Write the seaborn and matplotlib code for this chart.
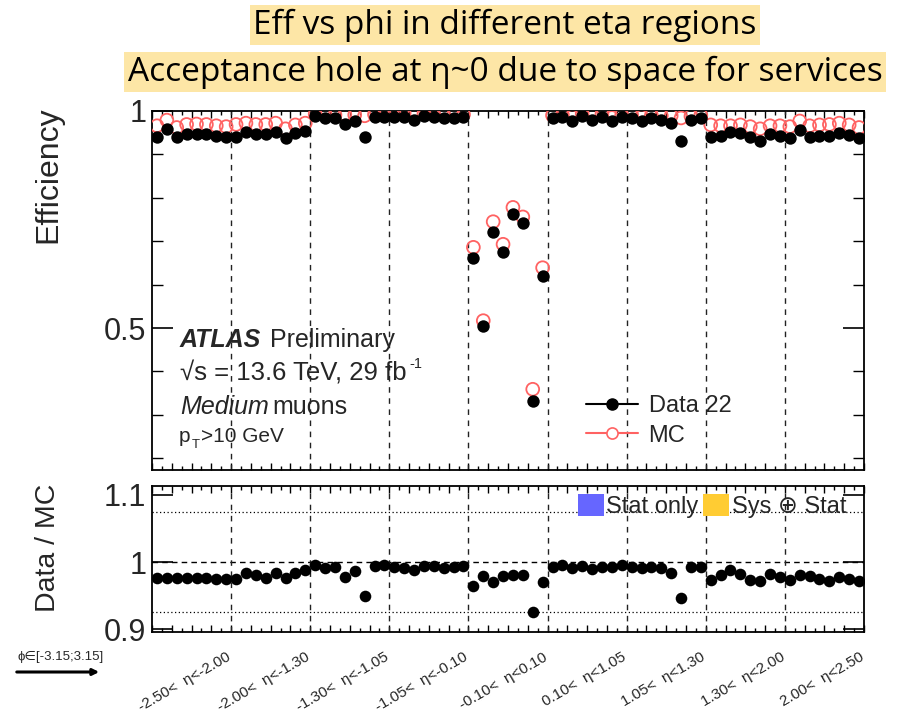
import numpy as np
import pandas as pd
import matplotlib
matplotlib.use("Agg")
import matplotlib.pyplot as plt
from matplotlib.lines import Line2D
from matplotlib.patches import Patch, FancyArrowPatch
import seaborn as sns

# ---- eta regions, 8 phi bins in each ----
eta_labels = ["-2.50<  \u03b7<-2.00", "-2.00<  \u03b7<-1.30", "-1.30<  \u03b7<-1.05",
              "-1.05<  \u03b7<-0.10", "-0.10<  \u03b7<0.10", "0.10<  \u03b7<1.05",
              "1.05<  \u03b7<1.30", "1.30<  \u03b7<2.00", "2.00<  \u03b7<2.50"]
n_phi = 8

# ---- efficiency in data (2022) per (eta, phi) bin ----
eff_data = [
    0.941, 0.959, 0.939, 0.946, 0.947, 0.946, 0.943, 0.939,
    0.941, 0.952, 0.947, 0.947, 0.951, 0.937, 0.949, 0.954,
    0.988, 0.984, 0.984, 0.970, 0.978, 0.940, 0.986, 0.987,
    0.986, 0.986, 0.979, 0.988, 0.986, 0.983, 0.984, 0.986,
    0.661, 0.505, 0.722, 0.676, 0.762, 0.741, 0.332, 0.620,
    0.983, 0.986, 0.978, 0.988, 0.980, 0.986, 0.978, 0.986,
    0.983, 0.978, 0.983, 0.980, 0.973, 0.931, 0.980, 0.983,
    0.941, 0.943, 0.952, 0.949, 0.941, 0.931, 0.946, 0.943,
    0.938, 0.956, 0.941, 0.943, 0.943, 0.949, 0.945, 0.937,
]

# ---- efficiency in simulation ----
eff_mc = [
    0.966, 0.979, 0.962, 0.969, 0.970, 0.969, 0.966, 0.964,
    0.969, 0.972, 0.969, 0.969, 0.972, 0.959, 0.968, 0.972,
    0.993, 0.993, 0.991, 0.992, 0.991, 0.989, 0.992, 0.992,
    0.993, 0.995, 0.991, 0.994, 0.992, 0.992, 0.991, 0.992,
    0.686, 0.517, 0.745, 0.693, 0.778, 0.756, 0.359, 0.639,
    0.990, 0.991, 0.987, 0.994, 0.990, 0.993, 0.985, 0.991,
    0.990, 0.987, 0.990, 0.989, 0.989, 0.984, 0.988, 0.990,
    0.968, 0.966, 0.966, 0.968, 0.964, 0.959, 0.966, 0.966,
    0.964, 0.977, 0.966, 0.968, 0.969, 0.972, 0.968, 0.962,
]

# ---- scale factor data / MC ----
ratio = [
    0.977, 0.977, 0.977, 0.977, 0.977, 0.977, 0.975, 0.975,
    0.975, 0.984, 0.981, 0.977, 0.983, 0.977, 0.983, 0.988,
    0.996, 0.991, 0.993, 0.978, 0.987, 0.950, 0.994, 0.995,
    0.993, 0.991, 0.988, 0.994, 0.994, 0.991, 0.993, 0.994,
    0.964, 0.979, 0.971, 0.979, 0.980, 0.980, 0.925, 0.971,
    0.993, 0.995, 0.991, 0.994, 0.990, 0.993, 0.993, 0.995,
    0.993, 0.991, 0.993, 0.991, 0.984, 0.946, 0.992, 0.993,
    0.973, 0.980, 0.988, 0.982, 0.973, 0.972, 0.982, 0.978,
    0.973, 0.980, 0.979, 0.975, 0.972, 0.978, 0.975, 0.972,
]

n_bins = len(eta_labels) * n_phi
df = pd.DataFrame({
    "bin": np.arange(n_bins) + 0.5,
    "data": eff_data,
    "mc": eff_mc,
    "ratio": ratio,
})

sns.set_theme(style="ticks")
plt.rcParams["font.family"] = ["Liberation Sans", "DejaVu Sans"]

W, H = 906, 715
fig = plt.figure(figsize=(W / 100, H / 100), dpi=100)


def fx(px):
    return px / W


def fy(py):
    return 1 - py / H


ax1 = fig.add_axes([fx(152), fy(470), fx(864) - fx(152), fy(111) - fy(470)])
ax2 = fig.add_axes([fx(152), fy(632), fx(864) - fx(152), fy(486) - fy(632)])

MC_RED = "#ff6262"

# ---- efficiency panel ----
sns.scatterplot(data=df, x="bin", y="mc", ax=ax1, marker="o", s=85,
                facecolor="none", edgecolor=MC_RED, linewidth=1.3,
                zorder=3, legend=False)
sns.scatterplot(data=df, x="bin", y="data", ax=ax1, marker="o", s=80,
                color="black", edgecolor="black", linewidth=0,
                zorder=4, legend=False)
ax1.set_xlim(0, n_bins)
ax1.set_ylim(0.173, 1.0)

# ---- ratio panel ----
sns.scatterplot(data=df, x="bin", y="ratio", ax=ax2, marker="o", s=70,
                color="black", edgecolor="black", linewidth=0,
                zorder=4, legend=False)
ax2.set_xlim(0, n_bins)
ax2.set_ylim(0.896, 1.113)
ax2.axhline(1.0, color="black", lw=1.0, ls=(0, (4, 3)), zorder=1)
for yv in (1.075, 0.925):
    ax2.axhline(yv, color="black", lw=0.9, ls=(0, (1, 2)), zorder=1)

# eta region boundaries
for ax in (ax1, ax2):
    for k in range(1, len(eta_labels)):
        ax.axvline(k * n_phi, color="#222222", lw=1.0, ls=(0, (4, 4)), zorder=1)
    ax.set_xlabel("")
    ax.set_ylabel("")
    for sp in ax.spines.values():
        sp.set_visible(True)
        sp.set_color("black")
        sp.set_linewidth(1.3)
    ax.set_xticks(np.arange(0, n_bins + 1, 2))
    ax.set_xticks(np.arange(0, n_bins + 1, 1), minor=True)
    ax.tick_params(axis="x", which="both", direction="in", top=True, bottom=True,
                   labelbottom=False, color="black")
    ax.tick_params(axis="x", which="major", length=5, width=1)
    ax.tick_params(axis="x", which="minor", length=3, width=1)
    ax.tick_params(axis="y", which="both", direction="in", left=True, right=True,
                   labelsize=22, color="black", pad=4)
    ax.tick_params(axis="y", which="major", length=15, width=1.2)
    ax.tick_params(axis="y", which="minor", length=8, width=1)

ax1.set_yticks([0.5, 1.0])
ax1.set_yticklabels(["0.5", "1"])
ax1.set_yticks([0.2, 0.3, 0.4, 0.6, 0.7, 0.8, 0.9], minor=True)
ax2.set_yticks([0.9, 1.0, 1.1])
ax2.set_yticklabels(["0.9", "1", "1.1"])
ax2.set_yticks([], minor=True)

# axis titles
fig.text(fx(48), fy(106), "Efficiency", rotation=90, ha="center", va="top", fontsize=23)
fig.text(fx(48), fy(484), "Data / MC", rotation=90, ha="center", va="top", fontsize=20.5)

# legends
h_data = Line2D([], [], color="black", lw=1.5, marker="o", ms=8, mfc="black", mec="black")
h_mc = Line2D([], [], color=MC_RED, lw=1.5, marker="o", ms=8, mfc="white", mec=MC_RED, mew=1.2)
fig.legend(handles=[h_data, h_mc], labels=["Data 22", "MC"], loc="center left",
           bbox_to_anchor=(fx(586), fy(421)), frameon=False, fontsize=17,
           handlelength=2.2, handletextpad=0.45, labelspacing=0.3,
           borderpad=0, borderaxespad=0)

h_stat = Patch(facecolor="#6666ff", edgecolor="none")
h_sys = Patch(facecolor="#ffcc33", edgecolor="none")
fig.legend(handles=[h_stat, h_sys], labels=["Stat only", "Sys \u2295 Stat"],
           loc="center left", bbox_to_anchor=(fx(578), fy(506)), ncol=2,
           frameon=False, fontsize=17, handlelength=1.1, handleheight=1.1,
           handletextpad=0.1, columnspacing=0.2, borderpad=0, borderaxespad=0)

# ATLAS label
fig.text(fx(180), fy(340), "ATLAS", fontsize=18, fontweight="bold", fontstyle="italic",
         va="center", ha="left")
fig.text(fx(270), fy(340), "Preliminary", fontsize=18, va="center", ha="left")
fig.text(fx(180), fy(373), "\u221as = 13.6 TeV, 29 fb", fontsize=18.5, va="center", ha="left")
fig.text(fx(409), fy(364), "-1", fontsize=10.5, va="center", ha="left")
fig.text(fx(180), fy(407), "Medium", fontsize=18, fontstyle="italic", va="center", ha="left")
fig.text(fx(272), fy(407), "muons", fontsize=18, va="center", ha="left")
fig.text(fx(179), fy(436), "p", fontsize=15, va="center", ha="left")
fig.text(fx(192), fy(445), "T", fontsize=9.5, va="center", ha="left")
fig.text(fx(201), fy(436), ">10 GeV", fontsize=15, va="center", ha="left")

# eta region labels under the ratio panel
for k, lab in enumerate(eta_labels):
    xr = fx(152) + (fx(864) - fx(152)) * ((k + 1) * n_phi - 0.5) / n_bins
    fig.text(xr, fy(650), lab, rotation=30, rotation_mode="anchor",
             ha="right", va="top", fontsize=11)

# phi direction marker
fig.text(fx(17), fy(657), "\u03d5\u2208[-3.15;3.15]", fontsize=9.5, ha="left", va="center")
fig.add_artist(FancyArrowPatch(
    (fx(14), fy(672)), (fx(102), fy(672)), transform=fig.transFigure,
    arrowstyle="-|>", mutation_scale=9, lw=2.2, color="black"))

# slide headline
title_kw = dict(ha="center", va="center", fontsize=24, family=["Open Sans", "DejaVu Sans"],
                color="black",
                bbox=dict(boxstyle="square,pad=0.1", facecolor="#fde6a6", edgecolor="none"))
fig.text(fx(505), fy(25), "Eff vs phi in different eta regions", **title_kw)
fig.text(fx(505), fy(72), "Acceptance hole at \u03b7~0 due to space for services", **title_kw)

fig.savefig("out.png", dpi=100)
